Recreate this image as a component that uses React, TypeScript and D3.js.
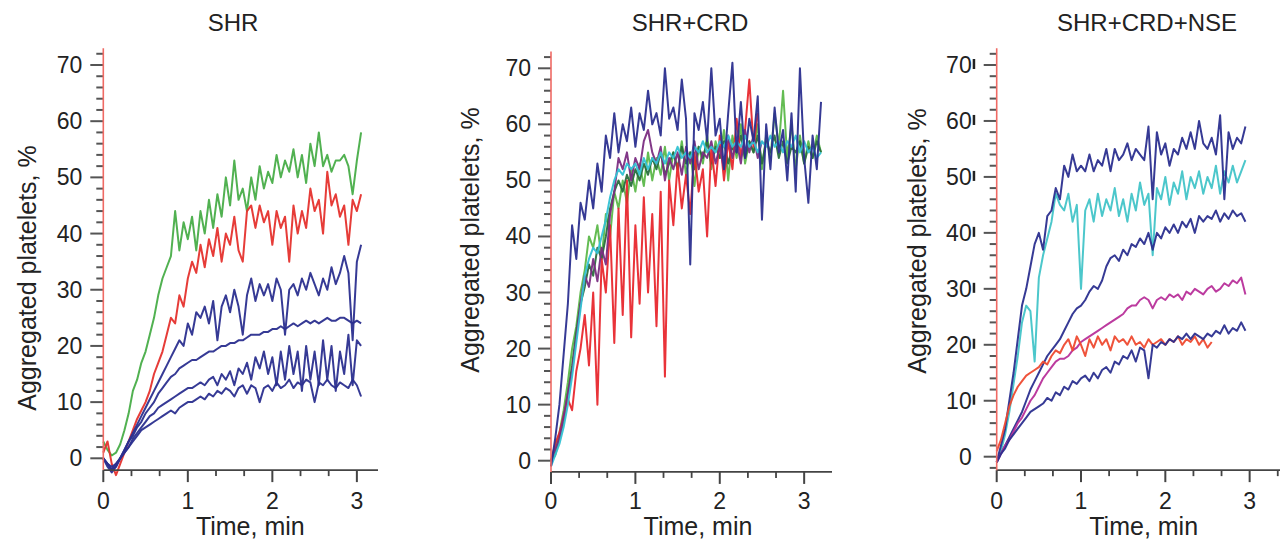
import React, { useRef, useEffect } from 'react';
import * as d3 from 'd3';

// sample times (min), shared by every trace
const times = [0, 0.05, 0.1, 0.15, 0.2, 0.25, 0.3, 0.35, 0.4, 0.45, 0.5, 0.55, 0.6, 0.65, 0.7, 0.75, 0.8, 0.85, 0.9, 0.95,
  1, 1.05, 1.1, 1.15, 1.2, 1.25, 1.3, 1.35, 1.4, 1.45, 1.5, 1.55, 1.6, 1.65, 1.7, 1.75, 1.8, 1.85, 1.9, 1.95,
  2, 2.05, 2.1, 2.15, 2.2, 2.25, 2.3, 2.35, 2.4, 2.45, 2.5, 2.55, 2.6, 2.65, 2.7, 2.75, 2.8, 2.85, 2.9, 2.95,
  3, 3.05, 3.1, 3.15, 3.2];

// SHR
const shrGreen = [3, 1.5, 0.5, 1, 2.5, 5, 8, 12, 14, 17, 19, 22, 25, 29, 32, 34, 36, 44, 37, 42,
  39, 43, 37, 44, 40, 46, 41, 47, 43, 50, 45, 53, 46, 48, 44, 50, 46, 52, 48, 51,
  49, 54, 50, 53, 51, 55, 50, 54, 49, 56, 52, 58, 52, 54, 51, 53, 53, 54, 52, 47, 53, 58];
const shrRed = [1, 3, -1, -3, -1, 1, 3, 5, 7, 8.5, 10, 12, 15, 17, 19, 22, 25, 24, 29, 27,
  32, 35, 33, 38, 34, 39, 36, 41, 35, 40, 38, 43, 37, 35, 44, 45, 41, 45, 42, 44,
  38, 44, 41, 43, 35, 45, 40, 44, 41, 48, 44, 46, 40, 51, 45, 47, 43, 45, 38, 46, 44, 47];
const shrBlueA = [0, -1, -2, -1, 0, 1.5, 3, 4.5, 6, 7.5, 9, 10.5, 12, 13.5, 15, 16.5, 18, 19.5, 21, 20,
  24, 22, 26, 25, 27, 24, 28, 21, 27, 29, 26, 30, 27, 22, 29, 32, 28, 31, 29, 31,
  28, 32, 30, 22, 30, 31, 29, 32, 30, 33, 31, 29, 32, 30, 34, 31, 33, 36, 33, 21, 35, 38];
const shrBlueB = [0, -1, -2, -1.5, 0, 1.5, 3, 4, 5.5, 6.5, 8, 9, 10, 11.5, 12.5, 13.5, 14.5, 15, 16, 16.5,
  17, 17.5, 17.5, 18, 18.5, 19, 19, 19.5, 20, 20, 20.5, 20.5, 21, 21, 21.5, 22, 22, 22, 22.5, 22.5,
  23, 23, 23.5, 23, 23.5, 24, 23.5, 24, 24.5, 24, 24.5, 24, 24.5, 25, 24.5, 24.5, 25, 25, 24.5, 24, 24.5, 24];
const shrBlueC = [0, -1, -1.5, -1, 0, 1, 2, 3.5, 4.5, 5.5, 6.5, 7.5, 8, 9, 9.5, 10, 10.5, 11, 11.5, 12,
  12.5, 12.5, 13, 13.5, 13, 14, 14.5, 13, 15, 14, 15.5, 13, 16, 15, 17, 14, 18, 16, 19, 15,
  18, 13, 19, 14, 20, 15, 19, 12, 20, 14, 19, 13, 21, 14, 20, 12, 19, 15, 22, 13, 21, 20];
const shrBlueD = [0, -1.5, -2.5, -1.5, 0, 1, 2, 3, 4, 5, 5.5, 6, 6.5, 7, 7.5, 8, 8.5, 8, 9, 9.5,
  10, 10, 10.5, 11, 10.5, 11.5, 11, 12, 11.5, 12.5, 12, 11, 12.5, 13, 11.5, 13, 12.5, 10, 12.5, 13,
  12, 13.5, 12.5, 13, 14, 12.5, 13.5, 13, 14, 13.5, 10, 13.5, 13, 14, 13, 12.5, 13.5, 13, 12.5, 14, 13, 11];

// SHR+CRD
const crdNavy = [-1, 4, 10, 19, 28, 42, 36, 46, 43, 50, 45, 53, 48, 58, 54, 62, 55, 60, 57, 63,
  56, 62, 59, 66, 60, 62, 58, 70, 61, 63, 59, 68, 61, 35, 62, 59, 64, 57, 70, 58,
  61, 52, 62, 71, 55, 64, 54, 61, 57, 65, 43, 60, 52, 63, 55, 59, 50, 62, 48, 70,
  54, 46, 58, 52, 64];
const crdRed = [0, 3, 5, 8, 11, 9, 16, 20, 26, 17, 30, 10, 36, 30, 42, 21, 45, 26, 50, 22,
  42, 28, 47, 30, 44, 24, 48, 15, 50, 42, 53, 45, 51, 44, 55, 48, 52, 40, 56, 49,
  58, 50, 57, 52, 61, 54, 59, 68, 56, 62];
const crdGreen = [0, 2, 5, 9, 14, 20, 24, 30, 34, 40, 38, 42, 36, 44, 40, 48, 45, 50, 46, 52,
  48, 53, 49, 55, 50, 54, 51, 56, 50, 55, 52, 57, 51, 55, 49, 56, 53, 58, 52, 57,
  54, 59, 50, 58, 54, 60, 53, 57, 55, 60, 52, 58, 54, 62, 56, 66, 54, 60, 52, 58,
  53, 57, 54, 58, 55];
const crdDarkGreen = [0, 1, 4, 7, 12, 17, 23, 28, 31, 35, 33, 38, 36, 40, 45, 48, 50, 48, 51, 49,
  52, 50, 53, 51, 54, 52, 55, 51, 53, 55, 52, 56, 53, 55, 52, 56, 54, 57, 53, 56,
  54, 57, 53, 56, 55, 58, 54, 57, 55, 58, 53, 57, 55, 58, 54, 57, 53, 56, 55, 57,
  53, 56, 54, 57, 55];
const crdPurple = [0, 2, 4, 8, 12, 16, 22, 28, 33, 31, 36, 32, 38, 35, 44, 48, 54, 52, 55, 50,
  54, 52, 57, 59, 55, 53, 56, 50, 54, 52, 55, 51, 56, 53, 57, 52, 55, 54, 57, 53,
  56, 52, 58, 54, 57, 53, 59, 55, 58, 54, 57];
const crdCyan = [-1, 1, 3, 6, 10, 15, 21, 27, 33, 36, 38, 37, 40, 43, 47, 50, 52, 51, 53, 52,
  53, 51, 54, 52, 54, 53, 55, 53, 55, 54, 56, 54, 55, 54, 56, 55, 57, 55, 56, 55,
  57, 56, 58, 56, 57, 56, 58, 56, 57, 55, 57, 56, 58, 56, 57, 55, 57, 56, 58, 55,
  57, 55, 56, 54, 55];

// SHR+CRD+NSE
const nseCyan = [-1, 1, 4, 8, 13, 18, 24, 27, 26, 17, 32, 36, 39, 42, 47, 45, 44, 47, 42, 45,
  30, 44, 46, 42, 47, 43, 46, 44, 48, 43, 46, 42, 47, 44, 49, 45, 47, 36, 48, 46,
  50, 45, 49, 47, 51, 46, 50, 48, 51, 47, 50, 48, 52, 47, 51, 49, 52, 49, 51, 53];
const nseNavyA = [-1, 2, 5, 10, 15, 21, 27, 30, 34, 38, 40, 37, 43, 44, 48, 46, 52, 50, 54, 51,
  52, 51, 54, 51, 53, 52, 55, 51, 55, 53, 54, 56, 53, 55, 54, 53, 59, 46, 58, 54,
  56, 52, 55, 54, 57, 55, 58, 55, 60, 56, 55, 57, 54, 61, 46, 58, 55, 57, 56, 59];
const nseNavyB = [-1, 0.5, 2, 3.5, 5, 6.5, 8, 10, 12, 13.5, 15, 16.5, 18, 19, 20, 21, 22.5, 24, 25.5, 26.5,
  27, 28, 29.5, 30.5, 30, 31.5, 34, 35.5, 36, 35, 37, 36, 38, 37.5, 39, 38, 40, 37, 40, 39,
  41, 40, 41.5, 40, 42, 41, 42.5, 40, 43, 42, 43, 42.5, 44, 42, 43.5, 42.5, 44, 43, 43.5, 42];
const nseMagenta = [-1, 0.5, 2, 3, 4.5, 6, 7, 8.5, 10, 11, 12.5, 14, 15, 16, 17, 17.5, 17.5, 18, 19, 19.5,
  20.5, 21, 21.5, 22, 22.5, 23, 23.5, 24, 24.5, 25, 25.5, 26.5, 27, 27, 28, 28.5, 28, 26.5, 28, 28.5,
  28, 29, 28.5, 29, 28, 29.5, 29, 30, 29.5, 29, 30, 30.5, 29.5, 30, 31, 30.5, 31.5, 31, 32, 29];
const nseRed = [1, 3, 6, 9, 11, 12.5, 13.5, 14.5, 15, 15.5, 16, 17, 16.5, 18, 19, 18.5, 20, 21, 19, 21.5,
  20, 18, 21, 19.5, 21.5, 20, 21, 19, 21.5, 20.5, 21, 20, 21.5, 20, 20.5, 19.5, 21, 20, 20.5, 21,
  20, 21, 20.5, 21.5, 20, 21, 20.5, 21.5, 20, 21, 19.5, 20.5];
const nseNavyC = [-1, 0.5, 1.5, 3, 4, 5, 6, 7, 8, 8.5, 9, 9.5, 10.5, 10, 11.5, 11, 12.5, 12, 13.5, 13,
  14, 14.5, 13.5, 15, 14, 15.5, 16, 15, 17, 16.5, 18, 17.5, 19, 17, 19.5, 19, 14, 20, 19.5, 20.5,
  20, 21, 20.5, 21.5, 21, 22, 21, 22, 21.5, 21, 22, 21.5, 22.5, 22, 23.5, 22, 23, 22.5, 24, 22.5];

const titles = ['SHR', 'SHR+CRD', 'SHR+CRD+NSE'];
const yTickLabels = [0, 10, 20, 30, 40, 50, 60, 70];
const xTickLabels = [0, 1, 2, 3];

const NAVY = '#2b2f8f';

const panels = [
  {
    title: titles[0],
    traces: [
      { values: shrGreen, color: '#48ad48' },
      { values: shrRed, color: '#e5322d' },
      { values: shrBlueD, color: NAVY },
      { values: shrBlueC, color: NAVY },
      { values: shrBlueB, color: NAVY },
      { values: shrBlueA, color: NAVY },
    ],
    left: 103.3, right: 378, xMax: 3.25, y0: 458.3, y70: 65, yLow: -2.1,
    labelGap: 21, bars: false, titleX: 233, yLabelX: 27, yLabelY: 278,
  },
  {
    title: titles[1],
    traces: [
      { values: crdGreen, color: '#5cb84a' },
      { values: crdDarkGreen, color: '#2a6e3e' },
      { values: crdRed, color: '#e8282e' },
      { values: crdPurple, color: '#7b2d82' },
      { values: crdCyan, color: '#34c2d4' },
      { values: crdNavy, color: NAVY },
    ],
    left: 551, right: 832, xMax: 3.33, y0: 460.7, y70: 68.3, yLow: -2,
    labelGap: 20, bars: false, titleX: 690, yLabelX: 470, yLabelY: 240,
  },
  {
    title: titles[2],
    traces: [
      { values: nseCyan, color: '#42c4c8' },
      { values: nseNavyA, color: NAVY },
      { values: nseNavyB, color: NAVY },
      { values: nseMagenta, color: '#b8309a' },
      { values: nseRed, color: '#ee4a30' },
      { values: nseNavyC, color: NAVY },
    ],
    left: 996.7, right: 1280, xMax: 3.36, y0: 456.7, y70: 65, yLow: -2.4,
    labelGap: 25, bars: true, titleX: 1147, yLabelX: 917, yLabelY: 241,
  },
];

const FONT = '"Liberation Sans", Arial, Helvetica, sans-serif';

export default function App() {
  const svgRef = useRef<SVGSVGElement>(null);

  useEffect(() => {
    const svg = d3.select(svgRef.current);
    svg.selectAll('*').remove();

    svg.append('rect').attr('width', 1280).attr('height', 543).attr('fill', '#fff');

    panels.forEach(p => {
      const x = d3.scaleLinear().domain([0, p.xMax]).range([p.left, p.right]);
      const y = d3.scaleLinear().domain([0, 70]).range([p.y0, p.y70]);
      const axisY = y(p.yLow);
      const g = svg.append('g');

      // title
      g.append('text')
        .attr('x', p.titleX).attr('y', 31)
        .attr('text-anchor', 'middle')
        .attr('font-family', FONT).attr('font-size', 24).attr('fill', '#222')
        .text(p.title);

      // traces
      const line = d3.line<number>()
        .x((d, i) => x(times[i]))
        .y(d => y(d));
      p.traces.forEach(tr => {
        g.append('path')
          .attr('d', line(tr.values))
          .attr('fill', 'none')
          .attr('stroke', tr.color)
          .attr('stroke-width', 2)
          .attr('stroke-linejoin', 'round')
          .attr('opacity', 0.95);
      });

      // x axis
      const xMinor = d3.range(0, p.xMax + 0.001, 1 / 3).filter(v => Math.abs(v - Math.round(v)) > 0.01);
      g.append('line')
        .attr('x1', p.left).attr('x2', p.right)
        .attr('y1', axisY).attr('y2', axisY)
        .attr('stroke', '#444').attr('stroke-width', 1.6);
      g.selectAll('.xminor').data(xMinor).enter().append('line')
        .attr('x1', d => x(d)).attr('x2', d => x(d))
        .attr('y1', axisY).attr('y2', axisY + 6)
        .attr('stroke', '#444').attr('stroke-width', 1.8);
      g.selectAll('.xmajor').data(xTickLabels).enter().append('line')
        .attr('x1', d => x(d)).attr('x2', d => x(d))
        .attr('y1', axisY).attr('y2', axisY + 12)
        .attr('stroke', '#444').attr('stroke-width', 2);
      g.selectAll('.xlab').data(xTickLabels).enter().append('text')
        .attr('x', d => x(d)).attr('y', 509)
        .attr('text-anchor', 'middle')
        .attr('font-family', FONT).attr('font-size', 23).attr('fill', '#222')
        .text(d => d);
      g.append('text')
        .attr('x', p.left + 147).attr('y', 535)
        .attr('text-anchor', 'middle')
        .attr('font-family', FONT).attr('font-size', 25).attr('fill', '#222')
        .text('Time, min');

      // y axis: red spine with grey ticks on the left
      const yMinor = d3.range(-2, 73, 2).filter(v => v % 10 !== 0 && y(v) < axisY - 2);
      g.selectAll('.yminor').data(yMinor).enter().append('line')
        .attr('x1', p.left - 7).attr('x2', p.left)
        .attr('y1', d => y(d)).attr('y2', d => y(d))
        .attr('stroke', '#555').attr('stroke-width', 2);
      g.selectAll('.ymajor').data(yTickLabels).enter().append('line')
        .attr('x1', p.left - 13).attr('x2', p.left)
        .attr('y1', d => y(d)).attr('y2', d => y(d))
        .attr('stroke', '#555').attr('stroke-width', 2);
      g.append('line')
        .attr('x1', p.left).attr('x2', p.left)
        .attr('y1', y(73)).attr('y2', axisY)
        .attr('stroke', '#ef6a64').attr('stroke-width', 1.6);
      g.selectAll('.ylab').data(yTickLabels).enter().append('text')
        .attr('x', p.left - p.labelGap).attr('y', d => y(d) + 8)
        .attr('text-anchor', 'end')
        .attr('font-family', FONT).attr('font-size', 23).attr('fill', '#222')
        .text(d => d);
      if (p.bars) {
        g.selectAll('.ybar').data(yTickLabels.filter(v => v > 0)).enter().append('rect')
          .attr('x', p.left - p.labelGap + 1).attr('y', d => y(d) - 6)
          .attr('width', 2.5).attr('height', 10)
          .attr('fill', '#222');
      }
      g.append('text')
        .attr('transform', `translate(${p.yLabelX},${p.yLabelY}) rotate(-90)`)
        .attr('text-anchor', 'middle').attr('dominant-baseline', 'central')
        .attr('font-family', FONT).attr('font-size', 25).attr('fill', '#222')
        .text('Aggregated platelets, %');
    });
  }, []);

  return (
    <svg ref={svgRef} width={1280} height={543}
      style={{ position: 'absolute', left: 0, top: 0, display: 'block' }} />
  );
}
